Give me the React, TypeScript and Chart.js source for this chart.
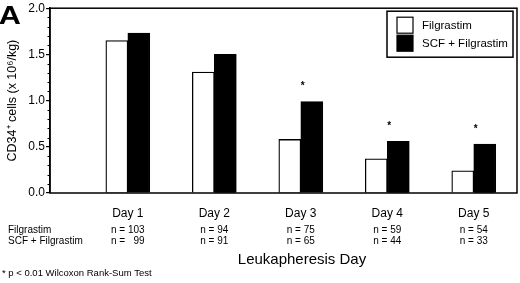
import React, { useEffect, useRef } from "react";
import { Chart, registerables } from "chart.js";
Chart.register(...registerables);

const categories = ["Day 1", "Day 2", "Day 3", "Day 4", "Day 5"];
const seriesLabels = ["Filgrastim", "SCF + Filgrastim"];
const filgrastim = [1.65, 1.31, 0.58, 0.37, 0.24];
const scfFilgrastim = [1.73, 1.5, 0.99, 0.56, 0.53];
const significant = [false, false, true, true, true];
const nFilgrastim = ["n = 103", "n = 94", "n = 75", "n = 59", "n = 54"];
const nScf = ["n =   99", "n = 91", "n = 65", "n = 44", "n = 33"];
const yTickValues = [0, 0.5, 1, 1.5, 2];
const minorStep = 0.1;

const FONT = '"Liberation Sans", Arial, Helvetica, sans-serif';

const overlay = {
  id: "overlay",
  afterDraw(chart: any) {
    const { ctx, chartArea: a, scales } = chart;
    const x = scales.x;
    const y = scales.y;
    ctx.save();
    // frame
    ctx.strokeStyle = "#000";
    ctx.lineWidth = 1.5;
    ctx.strokeRect(a.left, a.top, a.right - a.left, a.bottom - a.top);
    // minor ticks
    ctx.lineWidth = 1;
    for (let v = 0; v <= 2.0001; v += minorStep) {
      const r = Math.round(v * 10);
      if (r % 5 === 0) continue;
      const py = Math.round(y.getPixelForValue(v)) + 0.5;
      ctx.beginPath();
      ctx.moveTo(a.left - 2.5, py);
      ctx.lineTo(a.left, py);
      ctx.stroke();
    }
    // asterisks
    ctx.fillStyle = "#000";
    ctx.font = `bold 10px ${FONT}`;
    ctx.textAlign = "center";
    ctx.textBaseline = "middle";
    significant.forEach((s, i) => {
      if (!s) return;
      const top = Math.max(filgrastim[i], scfFilgrastim[i]);
      const px = x.getPixelForValue(i + 1) + 2;
      const py = y.getPixelForValue(top) - 18;
      ctx.fillText("*", px, py + 3);
    });
    // legend
    const lx = a.right - 130;
    const ly = a.top + 3;
    ctx.lineWidth = 1.5;
    ctx.strokeRect(lx, ly, 126, 46);
    const colors = ["#fff", "#000"];
    ctx.font = `11.5px ${FONT}`;
    ctx.textAlign = "left";
    seriesLabels.forEach((lab, i) => {
      const sy = ly + 6 + i * 18;
      ctx.fillStyle = colors[i];
      ctx.fillRect(lx + 10, sy, 16, 16);
      ctx.strokeStyle = "#000";
      ctx.lineWidth = 1.2;
      ctx.strokeRect(lx + 10, sy, 16, 16);
      ctx.fillStyle = "#000";
      ctx.fillText(lab, lx + 35, sy + 8.5);
    });
    // n rows
    ctx.font = `10px ${FONT}`;
    ctx.textBaseline = "middle";
    ctx.textAlign = "left";
    ctx.fillText(seriesLabels[0], 8, 230);
    ctx.fillText(seriesLabels[1], 8, 241);
    ctx.textAlign = "center";
    categories.forEach((_, i) => {
      const px = x.getPixelForValue(i + 1);
      ctx.fillText(nFilgrastim[i], px, 230);
      ctx.fillText(nScf[i], px, 241);
    });
    // x title
    ctx.font = `15px ${FONT}`;
    ctx.fillText("Leukapheresis Day", 302, 260);
    // footnote
    ctx.font = `9.5px ${FONT}`;
    ctx.textAlign = "left";
    ctx.fillText("* p < 0.01 Wilcoxon Rank-Sum Test", 2, 273);
    // panel letter
    ctx.font = `bold 26px ${FONT}`;
    ctx.textBaseline = "alphabetic";
    ctx.save();
    ctx.scale(1.18, 1);
    ctx.fillText("A", -1, 24);
    ctx.restore();
    ctx.restore();
  },
};

export default function App() {
  const ref = useRef<HTMLCanvasElement>(null);
  useEffect(() => {
    if (!ref.current) return;
    const chart = new Chart(ref.current, {
      type: "bar",
      data: {
        datasets: [
          {
            label: seriesLabels[0],
            data: filgrastim.map((v, i) => ({ x: i + 1, y: v })),
            backgroundColor: "#fff",
            borderColor: "#000",
            borderWidth: 1.3,
            barThickness: 22,
          },
          {
            label: seriesLabels[1],
            data: scfFilgrastim.map((v, i) => ({ x: i + 1, y: v })),
            backgroundColor: "#000",
            borderColor: "#000",
            borderWidth: 1.3,
            barThickness: 22,
          },
        ],
      },
      options: {
        animation: false,
        responsive: false,
        maintainAspectRatio: false,
        layout: { padding: { top: 6, right: 3, left: 0, bottom: 0 } },
        plugins: { legend: { display: false }, tooltip: { enabled: false } },
        scales: {
          x: {
            type: "linear",
            offset: false,
            min: 0.1,
            max: 5.5,
            afterBuildTicks: (s: any) => {
              s.ticks = categories.map((_, i) => ({ value: i + 1 }));
            },
            afterFit: (s: any) => {
              s.height = 90;
            },
            ticks: {
              callback: (v: any) => categories[Math.round(v) - 1] ?? "",
              color: "#000",
              font: { family: FONT, size: 12 },
              padding: 13,
              maxRotation: 0,
              autoSkip: false,
            },
            grid: { display: false, drawTicks: false, tickLength: 0, offset: false },
            border: { display: false },
          },
          y: {
            min: 0,
            max: 2,
            afterBuildTicks: (s: any) => {
              s.ticks = yTickValues.map((v) => ({ value: v }));
            },
            afterFit: (s: any) => {
              s.width = 50;
            },
            ticks: {
              callback: (v: any) => Number(v).toFixed(1),
              color: "#000",
              font: { family: FONT, size: 12 },
              padding: 1,
            },
            grid: {
              drawOnChartArea: false,
              drawTicks: true,
              tickLength: 4,
              color: "#000",
              lineWidth: 1.2,
            },
            border: { display: true, color: "#000", width: 1.5 },
            title: {
              display: true,
              text: "CD34⁺ cells (x 10⁶/kg)",
              color: "#000",
              font: { family: FONT, size: 12.5 },
              padding: { top: 5, bottom: 0 },
            },
          },
        },
      },
      plugins: [overlay],
    });
    return () => chart.destroy();
  }, []);
  return (
    <div style={{ position: "fixed", left: 0, top: 0, width: 520, height: 283, background: "#fff" }}>
      <canvas ref={ref} width={520} height={283} style={{ width: 520, height: 283 }} />
    </div>
  );
}
